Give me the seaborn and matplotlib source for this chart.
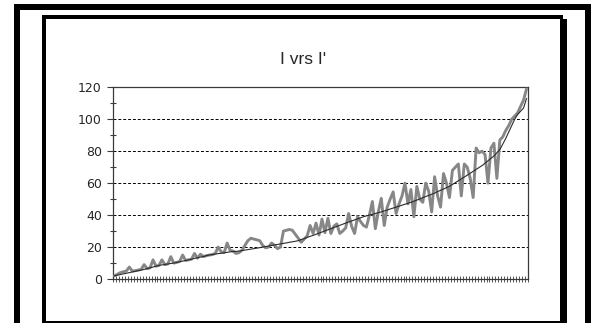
import numpy as np
import pandas as pd
import matplotlib
matplotlib.use("Agg")
import matplotlib.pyplot as plt
from matplotlib.patches import Rectangle
import seaborn as sns

# Observed series I (noisy) and smoothed series I'
series_i = [
    2, 3, 4, 4.5, 5, 7.5, 5, 5.2, 5.6, 6,
    9, 6.5, 7, 12, 8, 8.5, 12, 9, 9.4, 14,
    10, 10.4, 11, 15, 11.6, 12, 12.4, 16, 13, 15.5,
    14, 14.6, 15, 15.3, 16, 20, 17, 16.5, 22.5, 18,
    17.5, 16, 16.5, 18, 21, 24, 25.5, 25, 24.5, 24,
    21, 19.5, 20, 22.5, 21, 19, 20, 30, 30.5, 31,
    30.5, 28, 25.5, 23, 25, 27, 33.5, 28.5, 35, 27.5,
    37.5, 29, 38, 28.5, 33, 34.5, 28.5, 30, 32, 41,
    33, 28.5, 39, 36, 33.5, 32.5, 40, 48.5, 31.5, 42,
    50.5, 33.5, 45, 50, 54.5, 41, 47, 52, 60, 47,
    56, 39, 58, 50, 48, 60, 55, 42, 64, 52,
    45, 66, 60, 51, 68, 70, 72, 52, 72, 70,
    63, 51, 82, 79, 80, 78, 60, 82, 85, 63,
    87, 89, 93, 96, 100, 102, 104, 108, 112, 119,
]
series_i_prime = [
    2.0, 2.4, 2.8, 3.2, 3.6, 4.0, 4.4, 4.8, 5.2, 5.6,
    6.0, 6.5, 7.0, 7.5, 8.0, 8.5, 8.8, 9.1, 9.4, 9.7,
    10.0, 10.4, 10.8, 11.2, 11.6, 12.0, 12.4, 12.9, 13.3, 13.7,
    14.1, 14.6, 15.0, 15.3, 15.6, 15.9, 16.1, 16.4, 16.7, 17.0,
    17.2, 17.3, 17.5, 17.8, 18.1, 18.4, 18.7, 19.0, 19.3, 19.6,
    20.0, 20.3, 20.6, 21.0, 21.3, 21.6, 22.0, 22.3, 22.6, 23.0,
    23.3, 23.6, 24.0, 24.7, 25.3, 26.0, 26.7, 27.3, 28.0, 28.7,
    29.4, 30.1, 30.8, 31.5, 32.2, 32.9, 33.6, 34.3, 35.0, 35.7,
    36.3, 37.0, 37.7, 38.3, 39.0, 39.5, 40.0, 40.5, 41.0, 41.5,
    42.0, 42.6, 43.2, 43.8, 44.4, 45.0, 45.6, 46.2, 46.8, 47.4,
    48.0, 48.7, 49.4, 50.1, 50.9, 51.6, 52.3, 53.0, 53.8, 54.7,
    55.5, 56.3, 57.2, 58.0, 59.2, 60.3, 61.5, 62.7, 63.8, 65.0,
    66.2, 67.4, 68.6, 69.8, 71.0, 72.5, 74.0, 75.5, 77.0, 79.0,
    81.0, 84.5, 88.0, 92.0, 96.0, 100.0, 103.0, 105.0, 107.0, 113.0,
]
y_ticks = [0, 20, 40, 60, 80, 100, 120]
chart_title = "I vrs I'"

sns.set_style("white")
plt.rcParams["font.family"] = ["Liberation Sans", "DejaVu Sans"]

W, H = 594, 323
fig = plt.figure(figsize=(W / 100, H / 100), dpi=100)

def fx(px):
    return px / W

def fy(py):
    return 1 - py / H

def frame_bar(x0, y0, x1, y1):
    fig.patches.append(Rectangle((fx(x0), fy(y1)), fx(x1) - fx(x0), fy(y0) - fy(y1),
                                 transform=fig.transFigure, facecolor="black",
                                 edgecolor="none", zorder=5))

# outer frame (open at the bottom)
frame_bar(14, 4, 591, 10)
frame_bar(14, 4, 20, 323)
frame_bar(585, 4, 591, 323)
# inner chart-area border with its shadowed right edge
frame_bar(42, 15, 563, 19)
frame_bar(42, 15, 46, 322)
frame_bar(560, 19, 567, 323)
frame_bar(42, 321, 562, 322.5)

ax = fig.add_axes([fx(113), fy(279), fx(528) - fx(113), fy(87.3) - fy(279)])

n = len(series_i)
df = pd.DataFrame({"idx": np.arange(n), "I": series_i, "I'": series_i_prime})

sns.lineplot(data=df, x="idx", y="I", ax=ax, color="#878787", linewidth=2.1,
             zorder=3)
sns.lineplot(data=df, x="idx", y="I'", ax=ax, color="#2a2a2a", linewidth=0.8,
             zorder=4)

ax.set_xlim(-0.5, n - 0.5)
ax.set_ylim(0, 120)
ax.set_xlabel("")
ax.set_ylabel("")

# dashed horizontal gridlines
for v in y_ticks[1:-1]:
    ax.axhline(v, color="black", linewidth=0.7, linestyle=(0, (3, 2)), zorder=1)

for s in ax.spines.values():
    s.set_visible(True)
    s.set_color("#3a3a3a")
    s.set_linewidth(0.9)

ax.set_yticks(y_ticks)
ax.set_yticks(np.arange(10, 120, 20), minor=True)
ax.tick_params(axis="y", which="major", direction="out", length=4, width=0.8,
               color="#3a3a3a", labelsize=9, pad=4, left=True)
ax.tick_params(axis="y", which="minor", direction="inout", length=5, width=0.8,
               color="#3a3a3a", left=True)
for lbl in ax.get_yticklabels():
    lbl.set_family(["DejaVu Sans"])

ax.set_xticks(np.arange(n + 1) - 0.5)
ax.tick_params(axis="x", which="major", direction="inout", length=5, width=0.6,
               color="#3a3a3a", labelbottom=False, bottom=True)

fig.text(fx(303), fy(59), chart_title, ha="center", va="center", fontsize=12.5)

fig.savefig("out.png", dpi=100)
